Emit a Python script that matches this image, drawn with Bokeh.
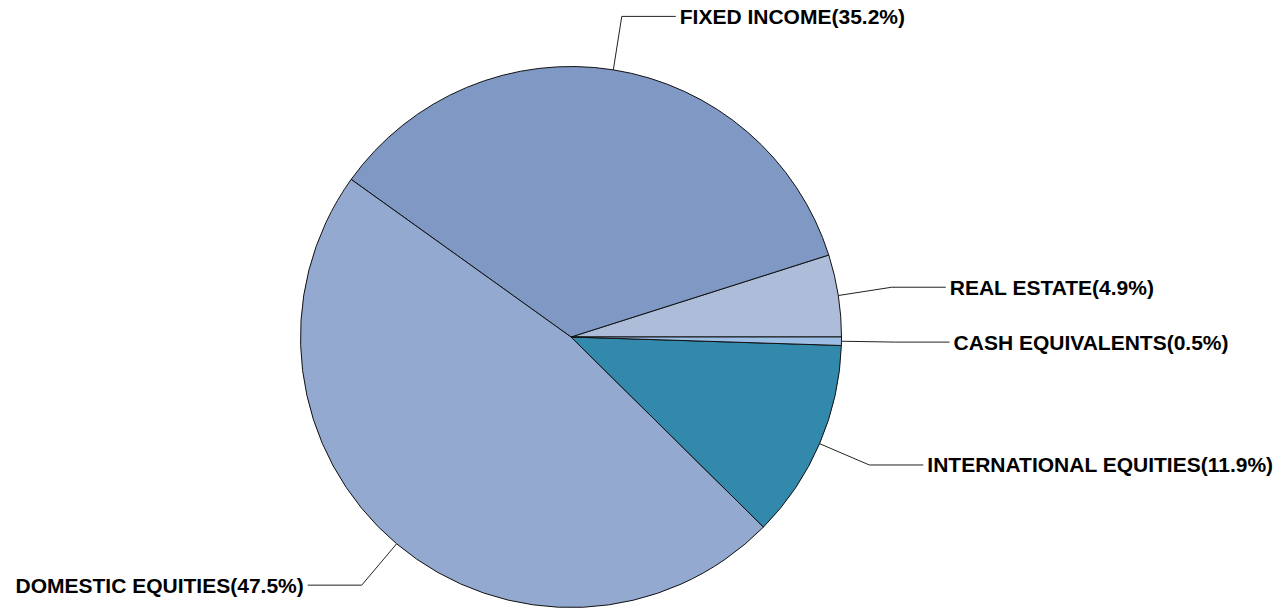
import math
from bokeh.plotting import figure
from bokeh.models import Range1d, ColumnDataSource
from bokeh.embed import file_html
from bokeh.resources import INLINE
from bokeh.core.properties import value

# Data (counter-clockwise order starting at 3 o'clock)
categories = ["REAL ESTATE", "FIXED INCOME", "DOMESTIC EQUITIES",
              "INTERNATIONAL EQUITIES", "CASH EQUIVALENTS"]
percents = [4.9, 35.2, 47.5, 11.9, 0.5]
colors = ["#adbdd9", "#7f98c4", "#94a9d0", "#3389ab", "#9dbfe6"]

W, H = 1283, 611
p = figure(width=W, height=H, output_backend="svg", toolbar_location=None,
           x_range=Range1d(0, W), y_range=Range1d(0, H),
           x_axis_location=None, y_axis_location=None, min_border=0)
p.grid.visible = False
p.outline_line_color = None
p.background_fill_color = "white"
p.border_fill_color = "white"

cx, cy = 570.5, H - 336.5
R = 270.5

total = sum(percents)
starts, ends = [], []
acc = 0.0
for v in percents:
    a0 = acc / total * 2 * math.pi
    acc += v
    a1 = acc / total * 2 * math.pi
    starts.append(a0)
    ends.append(a1)

src = ColumnDataSource(dict(start=starts, end=ends, color=colors))
p.wedge(x=cx, y=cy, radius=R, start_angle="start", end_angle="end",
        direction="anticlock", fill_color="color", line_color="#111111",
        line_width=1, source=src)

lx, ly, tx, ty, labels, aligns = [], [], [], [], [], []
for cat, v, a0, a1 in zip(categories, percents, starts, ends):
    m = (a0 + a1) / 2
    c, s = math.cos(m), math.sin(m)
    x0, y0 = cx + R * c, cy + R * s
    x1, y1 = cx + R * 1.2 * c, cy + R * 1.2 * s
    d = 1 if c >= 0 else -1
    x2 = x1 + d * 54
    lx.append([x0, x1, x2])
    ly.append([y0, y1, y1])
    tx.append(x2 + d * 4)
    ty.append(y1)
    labels.append(f"{cat}({v}%)")
    aligns.append("left" if d > 0 else "right")

p.multi_line(xs=lx, ys=ly, line_color="#222222", line_width=1)
tsrc = ColumnDataSource(dict(x=tx, y=ty, text=labels, align=aligns))
p.text(x="x", y="y", text="text", text_align="align", text_baseline="middle",
       text_font=value("Liberation Sans"), text_font_style="bold",
       text_font_size="21px", text_color="#000000", source=tsrc)

open("out.html", "w").write(file_html(p, INLINE))
